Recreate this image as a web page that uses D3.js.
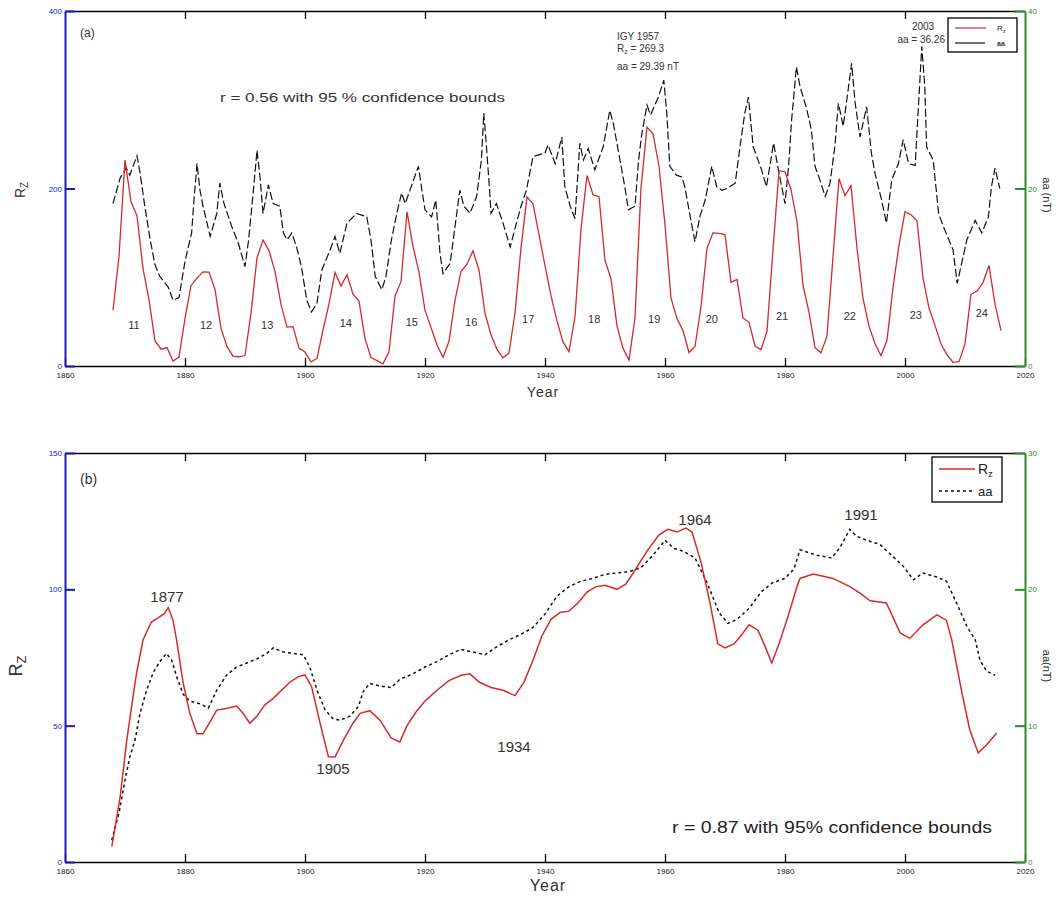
<!DOCTYPE html>
<html>
<head>
<meta charset="utf-8">
<script src="https://cdn.jsdelivr.net/npm/d3@7"></script>
<style>
  body { margin: 0; background: #fff; }
  text { font-family: "Liberation Sans", Arial, sans-serif; }
  .tick text { font-size: 8px; }
</style>
</head>
<body>
<script>
// ---- data ----
// panel (a): yearly sunspot number
let rzYears = d3.range(1868, 2017);
let rzYearly = [62.8, 123.6, 232.0, 185.3, 169.2, 110.1, 74.5, 28.3, 18.9, 20.7, 5.7, 10.0,
  53.7, 90.5, 99.0, 106.1, 105.8, 86.3, 42.4, 21.8, 11.2, 10.4, 11.8, 59.5, 121.7, 142.0,
  130.0, 106.6, 69.4, 43.8, 44.4, 20.2, 15.7, 4.6, 8.5, 40.8, 70.1, 105.5, 90.1, 102.8,
  80.9, 73.2, 30.9, 9.5, 6.0, 2.4, 16.1, 79.0, 95.0, 173.6, 134.6, 105.7, 62.7, 43.5,
  23.7, 9.7, 27.9, 74.0, 106.5, 114.7, 129.7, 108.2, 59.4, 35.1, 18.6, 9.2, 14.6, 60.2,
  132.8, 190.6, 182.6, 148.0, 113.0, 79.2, 50.8, 27.1, 16.1, 55.3, 154.3, 214.7, 193.0,
  190.7, 118.9, 98.3, 45.0, 20.1, 6.6, 54.2, 200.7, 269.3, 261.7, 225.1, 159.0, 76.4,
  53.4, 39.9, 15.0, 22.0, 66.8, 132.9, 150.0, 149.4, 148.0, 94.4, 97.6, 54.1, 49.2, 22.5,
  18.4, 39.3, 131.0, 220.1, 218.9, 198.9, 162.4, 91.0, 60.5, 20.6, 14.8, 33.9, 123.0,
  211.1, 191.8, 203.3, 133.0, 76.1, 44.9, 25.1, 11.6, 28.9, 88.3, 136.3, 173.9, 170.4,
  163.6, 99.3, 65.3, 45.8, 24.7, 12.6, 4.2, 4.8, 24.9, 80.8, 84.5, 94.0, 113.3, 69.8, 39.8];

// panel (a): aa index (nT)
let aaYears = [1868, 1869.2, 1870.2, 1870.8, 1872, 1872.5, 1873.3, 1874.2, 1875, 1875.8, 1877.2,
  1878, 1879, 1880, 1881.1, 1881.5, 1882, 1882.5, 1883, 1884.2, 1885.3, 1885.8, 1886.5, 1887.8,
  1888.9, 1890, 1890.6, 1891.4, 1892, 1892.5, 1893, 1893.9, 1894.7, 1895.8, 1896.4, 1897,
  1897.8, 1898.6, 1899.4, 1900.3, 1901.1, 1902, 1902.8, 1904.2, 1905, 1905.8, 1907, 1908.6,
  1910.3, 1911, 1911.7, 1912.8, 1913.5, 1914.4, 1915.3, 1916.1, 1916.7, 1917.8, 1918.9,
  1919.4, 1920, 1921.1, 1921.8, 1922.5, 1923, 1924.2, 1925, 1925.8, 1926.5, 1927.5, 1928.6,
  1929.4, 1929.8, 1930.2, 1930.8, 1931, 1931.9, 1933, 1934.2, 1935, 1936, 1936.9, 1938, 1940,
  1940.5, 1941.7, 1942.8, 1943.3, 1944.2, 1945, 1945.8, 1946.4, 1947.2, 1948.3, 1949.7,
  1950.8, 1951.4, 1952.5, 1953.3, 1953.9, 1955, 1955.6, 1956.1, 1957, 1957.6, 1958.9, 1959.8,
  1960.3, 1960.8, 1961.9, 1962.8, 1963.3, 1964.4, 1965, 1965.8, 1966.7, 1967.8, 1968.6,
  1969.5, 1970.3, 1971.7, 1972.5, 1973.3, 1973.9, 1974.7, 1976.1, 1976.9, 1978.1, 1978.9,
  1980, 1980.6, 1981.1, 1981.9, 1982.5, 1983.6, 1984.4, 1985, 1985.8, 1986.7, 1987.5, 1988.3,
  1988.9, 1989.7, 1990.6, 1991.1, 1991.7, 1992.5, 1993.6, 1994.4, 1995, 1996.1, 1996.9,
  1997.8, 1998.9, 1999.7, 2000.6, 2001.7, 2002.2, 2002.8, 2003.3, 2003.6, 2004.7, 2005.6,
  2006.4, 2008, 2008.7, 2010.3, 2011.7, 2012.8, 2013.9, 2014.4, 2015, 2015.8];
let aaValues = [18.3, 21.2, 22.3, 21.5, 23.7, 21.8, 18, 14.2, 11.4, 10.1, 8.9,
  7.4, 7.7, 11.8, 15, 18.7, 22.8, 19.8, 18, 14.6, 17.2, 20.6, 18.3, 15.7,
  13.8, 11.2, 14.2, 19.8, 24.3, 21.3, 17.2, 20.4, 18.3, 18, 15, 14.2,
  15, 13.4, 11.2, 7.4, 6.1, 7.1, 10.8, 13.1, 14.6, 12.7, 16.1, 17.2,
  16.8, 14.2, 10.1, 8.6, 10.1, 14.2, 17.2, 19.5, 18.3, 20.4, 22.5,
  20.2, 17.6, 16.8, 18.7, 12.7, 10.4, 11.6, 15.7, 19.8, 18, 17.2, 19.1,
  23.2, 28.5, 25.1, 19.5, 17.2, 18.3, 16.1, 13.4, 15.5, 18, 19.8, 23.6, 24,
  24.9, 22.8, 25.8, 20.2, 18, 16.6, 25.1, 23.2, 24.5, 22.1, 24.7,
  28.8, 27.3, 23.2, 20.2, 17.6, 18, 23.2, 26, 29.4, 28.3, 30.3, 32.2,
  28.5, 22.5, 21.5, 21.3, 20.2, 16.1, 14, 16.8, 18.7, 22.5, 20.2,
  19.8, 20, 20.6, 24.7, 28.5, 30.3, 24.7, 22.1, 20.2, 25.1, 22.1,
  18.3, 22.5, 27.7, 33.7, 31.5, 29, 26.6, 22.5, 21, 19.1, 20.6, 24.7,
  29.6, 27, 31.5, 34.1, 29.6, 25.8, 29.2, 24, 21.7, 18.7, 16.1,
  21, 22.8, 25.5, 22.8, 22.6, 28.8, 36, 31.5, 24.7, 23.2, 17.2,
  15.7, 13.1, 9.3, 14.2, 16.4, 15, 16.8, 20.2, 22.3, 20];

// solar cycle numbers and where they are written
let cycleNums = [11, 12, 13, 14, 15, 16, 17, 18, 19, 20, 21, 22, 23, 24];
let cycleYears = [1871.5, 1883.5, 1893.7, 1906.8, 1917.8, 1927.7, 1937.2, 1948.2, 1958.2, 1967.8, 1979.5, 1990.8, 2001.8, 2012.8];
let cycleLevel = [42, 42, 42, 44, 45, 45, 49, 49, 49, 49, 52, 52, 53, 55];

// panel (b): smoothed Rz and aa
let rzSmYears = [1867.8, 1869.2, 1870.3, 1871.1, 1871.9, 1873, 1874.4, 1875.5, 1876.5, 1877.2, 1878,
  1878.6, 1879.7, 1880.8, 1882, 1883, 1884.2, 1885.3, 1886.9, 1888.6, 1889.7, 1890.8, 1892,
  1893.3, 1894.7, 1896.1, 1897.5, 1898.9, 1900, 1901.1, 1902.5, 1903.9, 1905, 1906.4, 1908,
  1909.2, 1910.8, 1912.5, 1914.4, 1915.8, 1917, 1918.5, 1920, 1922, 1924, 1926, 1927.5, 1929,
  1931, 1933, 1935, 1936.5, 1938, 1939.5, 1941, 1942.5, 1944, 1945.5, 1947, 1948.5, 1950, 1952,
  1953.5, 1955, 1957, 1959, 1960.5, 1962, 1963.5, 1964.5, 1966, 1967.5, 1968.8, 1970, 1971.5,
  1973, 1974, 1975.5, 1976.5, 1977.8, 1979, 1980.5, 1982, 1982.5, 1984.7, 1988, 1990.8, 1992.5,
  1994.2, 1996.9, 1999.2, 2000.8, 2003, 2005.3, 2006.9, 2007.8, 2009.4, 2010.8, 2012.2, 2013.6, 2015.3];
let rzSmooth = [5.6, 24, 44.7, 57, 69, 81.4, 88, 89.5, 91, 93.3, 88.7,
  81.4, 65.6, 54.6, 47, 47, 51.5, 55.7, 56.3, 57.2, 54.5, 50.9, 53.5,
  57.6, 60, 63, 66, 68, 68.6, 64.3, 51, 38.6, 38.5, 44.7, 50.9,
  54.5, 55.5, 52, 45.4, 44, 50, 55, 59, 63, 66.5, 68.5, 69, 66,
  64, 63, 61, 66, 74, 83, 89, 91.5, 92, 95, 99, 101, 101.5, 100,
  102, 107, 114, 120, 122, 121, 122.5, 121, 110, 95, 80, 78.5, 80,
  84, 87, 85, 80, 73, 80, 90, 101, 104, 105.6, 104, 101, 98.6,
  95.8, 95, 84, 82, 87, 90.6, 88.7, 81.4, 63, 48.4, 40, 43, 47.3];

let aaSmYears = [1867.8, 1869, 1870, 1870.8, 1871.7, 1872.5, 1873.6, 1874.7, 1875.8, 1876.9, 1877.8,
  1878.6, 1879.7, 1880.8, 1882.5, 1883.9, 1885.3, 1886.9, 1888.6, 1890.3, 1892, 1893.6, 1894.7,
  1896.4, 1898, 1899.7, 1900.8, 1902, 1903.3, 1904.7, 1905.8, 1907.5, 1908.9, 1909.7, 1910.8,
  1912.5, 1914.4, 1915.8, 1918, 1920, 1922, 1924, 1926, 1928, 1930, 1932, 1934, 1936, 1938,
  1940, 1942, 1944, 1946, 1948, 1950, 1952, 1954, 1956, 1958, 1960, 1961.5, 1963, 1965, 1967,
  1969, 1970.5, 1972, 1974, 1976, 1978, 1980, 1981.5, 1982.5, 1985.3, 1987.8, 1989.2, 1990.8,
  1991.9, 1993.6, 1995.8, 1998, 1999.7, 2001.4, 2003, 2005.3, 2006.9, 2008.6, 2010.3, 2011.7,
  2012.5, 2013.6, 2015];
let aaSmooth = [1.6, 3.6, 6, 7.7, 9, 10.9, 12.6, 13.9, 14.7, 15.3, 14.8,
  13.6, 12.3, 11.8, 11.6, 11.3, 12.6, 13.7, 14.3, 14.6, 14.9, 15.3, 15.7,
  15.4, 15.3, 15.2, 14.3, 12.6, 11.2, 10.5, 10.4, 10.7, 11.4, 12.5, 13.1,
  12.9, 12.8, 13.4, 13.8, 14.3, 14.7, 15.2, 15.6, 15.4, 15.2, 15.8, 16.3, 16.7, 17.2,
  18.2, 19.5, 20.2, 20.6, 20.8, 21.1, 21.2, 21.3, 21.6, 22.5, 23.6, 23, 22.8, 22.3, 20.5,
  18.3, 17.5, 17.8, 18.6, 19.8, 20.5, 20.8, 21.5, 22.9, 22.5, 22.3, 23.1, 24.4,
  23.9, 23.6, 23.3, 22.4, 21.7, 20.7, 21.2, 20.9, 20.6, 19, 17.3, 16.3,
  14.8, 14, 13.7];

let yearTicks = d3.range(1860, 2021, 20);

// ---- layout ----
let svg = d3.select("body").append("svg")
  .attr("width", 1062)
  .attr("height", 899);

let x = d3.scaleLinear().domain([1860, 2020]).range([65, 1025]);

let blue = "#1a1ab8", green = "#2e8b2e", red = "#d42a2a";

function panel(top, bottom, rzMax, aaMax, rzTicks, aaTicks) {
  let yR = d3.scaleLinear().domain([0, rzMax]).range([bottom, top]);
  let yA = d3.scaleLinear().domain([0, aaMax]).range([bottom, top]);
  let g = svg.append("g");

  // top frame with inward ticks
  g.append("g").attr("transform", "translate(0," + top + ")")
    .call(d3.axisTop(x).tickValues(yearTicks.slice(1, -1)).tickSize(-8).tickSizeOuter(0).tickFormat(""))
    .call(a => a.selectAll("path,line").attr("stroke", "#000").attr("stroke-width", 1.3));

  // bottom year axis
  g.append("g").attr("transform", "translate(0," + bottom + ")")
    .call(d3.axisBottom(x).tickValues(yearTicks).tickSize(-8).tickSizeOuter(0).tickPadding(6).tickFormat(d3.format("d")))
    .call(a => a.selectAll("path,line").attr("stroke", "#000").attr("stroke-width", 1.3))
    .call(a => a.selectAll("text").attr("fill", "#222"));

  // left Rz axis (blue)
  g.append("g").attr("transform", "translate(65,0)")
    .call(d3.axisLeft(yR).tickValues(rzTicks).tickSize(-10).tickSizeOuter(0).tickPadding(3))
    .call(a => a.selectAll("path,line").attr("stroke", blue).attr("stroke-width", 2))
    .call(a => a.selectAll("text").attr("fill", blue));

  // right aa axis (green)
  g.append("g").attr("transform", "translate(1025,0)")
    .call(d3.axisRight(yA).tickValues(aaTicks).tickSize(-10).tickSizeOuter(0).tickPadding(3))
    .call(a => a.selectAll("path,line").attr("stroke", green).attr("stroke-width", 2))
    .call(a => a.selectAll("text").attr("fill", green));

  return { g: g, yR: yR, yA: yA };
}

// ---------- panel (a) ----------
let pa = panel(11, 366, 400, 40, [0, 200, 400], [0, 20, 40]);

pa.g.append("path")
  .datum(aaYears.map((d, i) => [d, aaValues[i]]))
  .attr("fill", "none").attr("stroke", "#111").attr("stroke-width", 1.2)
  .attr("stroke-dasharray", "8,3")
  .attr("d", d3.line().x(d => x(d[0])).y(d => pa.yA(d[1])));

pa.g.append("path")
  .datum(rzYears.map((d, i) => [d, rzYearly[i]]))
  .attr("fill", "none").attr("stroke", red).attr("stroke-width", 1.3)
  .attr("d", d3.line().x(d => x(d[0])).y(d => pa.yR(d[1])));

pa.g.selectAll(".cyc").data(cycleNums).enter().append("text")
  .attr("class", "cyc")
  .attr("x", (d, i) => x(cycleYears[i]))
  .attr("y", (d, i) => pa.yR(cycleLevel[i]))
  .attr("text-anchor", "middle").attr("font-size", 11).attr("fill", "#333")
  .text(d => d);

pa.g.append("text").attr("x", 80).attr("y", 37).attr("font-size", 12).attr("fill", "#333").text("(a)");
pa.g.append("text").attr("x", 220).attr("y", 102).attr("font-size", 13).attr("fill", "#333")
  .attr("textLength", 285).attr("lengthAdjust", "spacingAndGlyphs")
  .text("r = 0.56 with 95 % confidence bounds");

let igy = pa.g.append("g").attr("font-size", 10).attr("fill", "#333");
igy.append("text").attr("x", 617).attr("y", 40).text("IGY 1957");
let rzt = igy.append("text").attr("x", 617).attr("y", 52);
rzt.append("tspan").text("R");
rzt.append("tspan").attr("font-size", 7).attr("dy", 2).text("z");
rzt.append("tspan").attr("dy", -2).text(" = 269.3");
igy.append("text").attr("x", 617).attr("y", 70).text("aa = 29.39 nT");

pa.g.append("text").attr("x", 923).attr("y", 30).attr("font-size", 10).attr("fill", "#333")
  .attr("text-anchor", "middle").text("2003");
pa.g.append("text").attr("x", 945).attr("y", 43).attr("font-size", 10).attr("fill", "#333")
  .attr("text-anchor", "end").text("aa = 36.26");

// legend (a)
let la = pa.g.append("g");
la.append("rect").attr("x", 948).attr("y", 18).attr("width", 69).attr("height", 34)
  .attr("fill", "#fff").attr("stroke", "#000").attr("stroke-width", 1.3);
la.append("line").attr("x1", 955).attr("x2", 986).attr("y1", 28).attr("y2", 28).attr("stroke", red).attr("stroke-width", 1.2);
la.append("line").attr("x1", 955).attr("x2", 985).attr("y1", 43).attr("y2", 43).attr("stroke", "#111").attr("stroke-width", 1.2);
let lr = la.append("text").attr("x", 997).attr("y", 31).attr("font-size", 8).attr("fill", "#333");
lr.append("tspan").text("R");
lr.append("tspan").attr("font-size", 6).attr("dy", 2).text("z");
la.append("text").attr("x", 997).attr("y", 46).attr("font-size", 7).attr("font-weight", "bold").attr("fill", "#333").text("aa");

svg.append("text").attr("x", 543).attr("y", 397).attr("text-anchor", "middle")
  .attr("font-size", 14).attr("letter-spacing", 1).attr("fill", "#333").text("Year");
let ya = svg.append("text").attr("transform", "translate(25,190) rotate(-90)")
  .attr("text-anchor", "middle").attr("font-size", 14).attr("fill", "#333");
ya.append("tspan").text("R");
ya.append("tspan").attr("font-size", 10).attr("dy", 3).text("Z");
svg.append("text").attr("transform", "translate(1043,195) rotate(90)")
  .attr("text-anchor", "middle").attr("font-size", 11).attr("fill", "#333").text("aa (nT)");

// ---------- panel (b) ----------
let pb = panel(453, 862, 150, 30, [0, 50, 100, 150], [0, 10, 20, 30]);

pb.g.append("path")
  .datum(aaSmYears.map((d, i) => [d, aaSmooth[i]]))
  .attr("fill", "none").attr("stroke", "#111").attr("stroke-width", 1.5)
  .attr("stroke-dasharray", "3,3")
  .attr("d", d3.line().x(d => x(d[0])).y(d => pb.yA(d[1])));

pb.g.append("path")
  .datum(rzSmYears.map((d, i) => [d, rzSmooth[i]]))
  .attr("fill", "none").attr("stroke", red).attr("stroke-width", 1.5)
  .attr("d", d3.line().x(d => x(d[0])).y(d => pb.yR(d[1])));

pb.g.append("text").attr("x", 80).attr("y", 484).attr("font-size", 14).attr("fill", "#333").text("(b)");

let peaks = [["1877", 167, 602], ["1905", 333, 774], ["1934", 514, 752], ["1964", 695, 525], ["1991", 861, 520]];
pb.g.selectAll(".pk").data(peaks).enter().append("text")
  .attr("x", d => d[1]).attr("y", d => d[2])
  .attr("text-anchor", "middle").attr("font-size", 15).attr("fill", "#333")
  .text(d => d[0]);

pb.g.append("text").attr("x", 672).attr("y", 833).attr("font-size", 17).attr("fill", "#222")
  .attr("textLength", 320).attr("lengthAdjust", "spacingAndGlyphs")
  .text("r = 0.87 with 95% confidence bounds");

// legend (b)
let lb = pb.g.append("g");
lb.append("rect").attr("x", 932).attr("y", 457).attr("width", 70).attr("height", 45)
  .attr("fill", "#fff").attr("stroke", "#000").attr("stroke-width", 1.3);
lb.append("line").attr("x1", 939).attr("x2", 975).attr("y1", 469).attr("y2", 469).attr("stroke", red).attr("stroke-width", 1.5);
lb.append("line").attr("x1", 939).attr("x2", 975).attr("y1", 491).attr("y2", 491).attr("stroke", "#111").attr("stroke-width", 1.5).attr("stroke-dasharray", "3,3");
let lbr = lb.append("text").attr("x", 978).attr("y", 474).attr("font-size", 14).attr("fill", "#222");
lbr.append("tspan").text("R");
lbr.append("tspan").attr("font-size", 9).attr("dy", 3).text("z");
lb.append("text").attr("x", 978).attr("y", 496).attr("font-size", 13).attr("fill", "#222").text("aa");

svg.append("text").attr("x", 548).attr("y", 891).attr("text-anchor", "middle")
  .attr("font-size", 16).attr("letter-spacing", 1).attr("fill", "#333").text("Year");
let yb = svg.append("text").attr("transform", "translate(22,666) rotate(-90)")
  .attr("text-anchor", "middle").attr("font-size", 18).attr("fill", "#333");
yb.append("tspan").text("R");
yb.append("tspan").attr("font-size", 13).attr("dy", 4).text("Z");
svg.append("text").attr("transform", "translate(1043,666) rotate(90)")
  .attr("text-anchor", "middle").attr("font-size", 11).attr("fill", "#333").text("aa(nT)");
</script>
</body>
</html>
